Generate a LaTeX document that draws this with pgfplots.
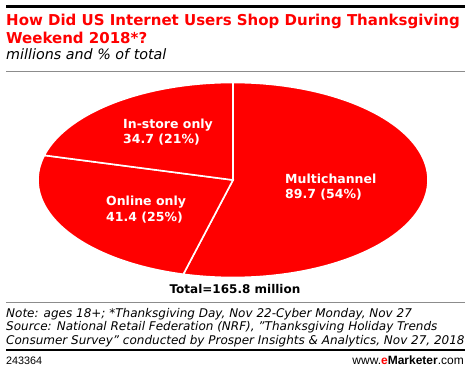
\documentclass[border=0pt]{standalone}
\usepackage{pgfplots}
\pgfplotsset{compat=1.18}
\usepackage{fontspec}
\setmainfont{DejaVu Sans}
\newfontfamily\notefont{Liberation Sans}
\definecolor{emred}{HTML}{FF0000}
\definecolor{rulegray}{HTML}{8C8C8C}
\begin{document}
\begin{tikzpicture}
% pie: values 89.7, 41.4, 34.7 of 165.8
\pgfmathsetmacro{\aA}{90}
\pgfmathsetmacro{\aB}{90-89.7/165.8*360}
\pgfmathsetmacro{\aC}{\aB-41.4/165.8*360}
\pgfmathsetmacro{\aD}{\aC-34.7/165.8*360}
\begin{axis}[at={(233pt,192pt)},anchor=origin,width=390pt,height=195pt,scale only axis,
  axis lines=none,xmin=-1,xmax=1,ymin=-1,ymax=1,clip=false]
\addplot[fill=emred,draw=white,line width=1.6pt,domain=\aB:\aA,samples=90,variable=\t] ({cos(\t)},{sin(\t)}) -- (axis cs:0,0) -- cycle;
\addplot[fill=emred,draw=white,line width=1.6pt,domain=\aC:\aB,samples=60,variable=\t] ({cos(\t)},{sin(\t)}) -- (axis cs:0,0) -- cycle;
\addplot[fill=emred,draw=white,line width=1.6pt,domain=\aD:\aC,samples=60,variable=\t] ({cos(\t)},{sin(\t)}) -- (axis cs:0,0) -- cycle;
\end{axis}
\begin{scope}[x=1pt,y=1pt]
\path (0,0) rectangle (470,372);
% top rule
\draw[line width=2.2pt,black] (6,{372-6.5}) -- (465,{372-6.5});
\node[anchor=base west,inner sep=0,text=emred,font=\bfseries\fontsize{15}{16}\selectfont] at (6,{372-26}) {How Did US Internet Users Shop During Thanksgiving};
\node[anchor=base west,inner sep=0,text=emred,font=\bfseries\fontsize{15}{16}\selectfont] at (6,{372-43.5}) {Weekend 2018*?};
\node[anchor=base west,inner sep=0,font=\itshape\fontsize{14.3}{15}\selectfont] at (6,{372-60}) {millions and \% of total};
\draw[line width=0.8pt,rulegray] (6,{372-71}) -- (465,{372-71});
% slice labels
\begin{scope}[every node/.style={anchor=base west,inner sep=0,text=white,font=\bfseries\fontsize{12.5}{14}\selectfont}]
\node at (123,{372-129}) {In-store only};
\node at (123,{372-144}) {34.7 (21\%)};
\node at (106,{372-206}) {Online only};
\node at (106,{372-222}) {41.4 (25\%)};
\node at (285,{372-184}) {Multichannel};
\node at (285,{372-199}) {89.7 (54\%)};
\end{scope}
\node[anchor=base,inner sep=0,font=\bfseries\fontsize{12}{14}\selectfont] at (235,{372-293}) {Total=165.8 million};
\draw[line width=0.8pt,rulegray] (6,{372-302}) -- (465,{372-302});
\begin{scope}[every node/.style={anchor=base west,inner sep=0,font=\itshape\fontsize{12}{13}\selectfont}]
\node at (6,{372-317}) {Note: ages 18+; *Thanksgiving Day, Nov 22-Cyber Monday, Nov 27};
\node at (6,{372-330.5}) {Source: National Retail Federation (NRF), "Thanksgiving Holiday Trends};
\node at (6,{372-344}) {Consumer Survey" conducted by Prosper Insights \& Analytics, Nov 27, 2018};
\end{scope}
\draw[line width=2.2pt,black] (6,{372-350}) -- (465,{372-350});
\node[anchor=base west,inner sep=0,font=\notefont\fontsize{10.8}{12}\selectfont] at (6,{372-364.5}) {243364};
\node[anchor=base east,inner sep=0,font=\notefont\fontsize{12}{13}\selectfont] at (464,{372-364.5}) {www.\textcolor{emred}{\bfseries e}\textbf{Marketer}.com};
\end{scope}
\end{tikzpicture}
\end{document}
